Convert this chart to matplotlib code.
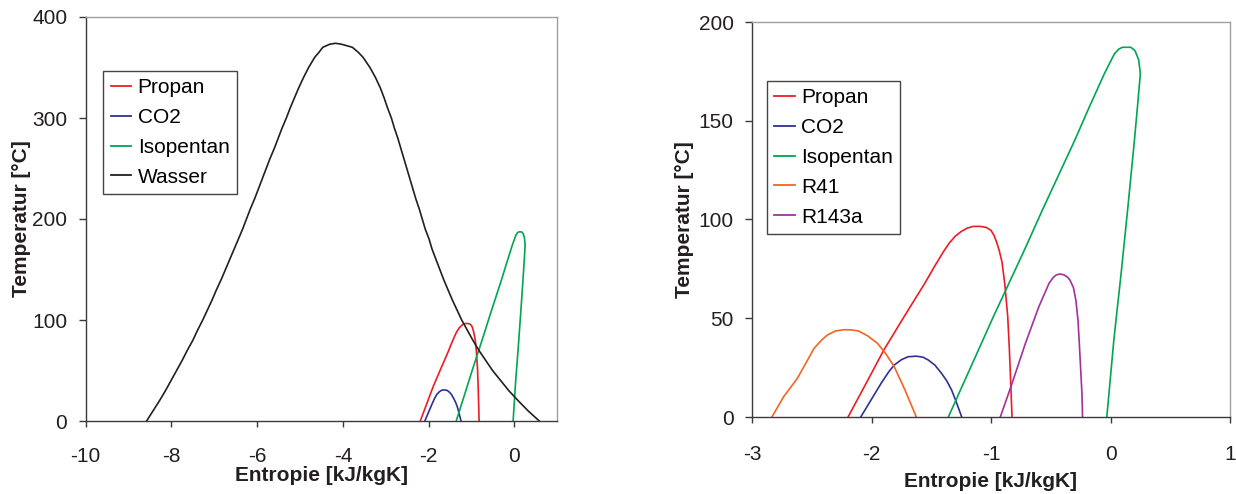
import matplotlib
matplotlib.use("Agg")
import matplotlib.pyplot as plt

plt.rcParams['font.family'] = ['Liberation Sans', 'DejaVu Sans']
plt.rcParams['axes.unicode_minus'] = False

# saturation curves: entropy [kJ/kgK], temperature [degC]
propan_s = [-2.196, -2.05, -1.897, -1.72, -1.555, -1.47, -1.40, -1.35, -1.30, -1.25,
            -1.20, -1.15, -1.09, -1.04, -1.00, -0.975, -0.95, -0.93, -0.908, -0.885,
            -0.86, -0.846, -0.835, -0.824]
propan_t = [0, 16.5, 33.9, 51.5, 67.6, 76.5, 83.5, 88.0, 91.5, 93.9,
            95.6, 96.5, 96.5, 96.0, 94.5, 92.0, 88.0, 84.0, 78.5, 67.6,
            50.8, 33.9, 17.0, 0]

co2_s = [-2.09, -2.00, -1.92, -1.86, -1.81, -1.75, -1.695, -1.625, -1.57, -1.526,
         -1.47, -1.414, -1.37, -1.33, -1.29, -1.245]
co2_t = [0, 9.0, 17.0, 22.5, 26.3, 29.0, 30.5, 30.8, 30.3, 28.9,
         26.3, 22.1, 18.3, 13.7, 7.5, 0]

isopentan_s = [-1.357, -0.98, -0.72, -0.57, -0.30, -0.177, -0.05, 0.00, 0.034, 0.07,
               0.10, 0.17, 0.205, 0.235, 0.25, 0.23, 0.20, 0.146, 0.089, 0.028,
               -0.023, -0.031]
isopentan_t = [0, 50.8, 84.6, 104.8, 140.0, 157.0, 174.0, 180.0, 184.0, 186.3,
               187.2, 187.2, 185.5, 181.0, 174.0, 160.0, 140.0, 106.5, 72.8, 39.0,
               5.2, 0]

r41_s = [-2.833, -2.735, -2.62, -2.48, -2.42, -2.37, -2.30, -2.23, -2.17, -2.11,
         -2.03, -1.95, -1.88, -1.81, -1.72, -1.625]
r41_t = [0, 10.3, 19.6, 34.8, 38.8, 41.5, 43.6, 44.2, 44.1, 43.6,
         41.0, 37.3, 32.0, 25.5, 13.7, 0]

r143a_s = [-0.922, -0.824, -0.712, -0.60, -0.514, -0.48, -0.455, -0.425, -0.39, -0.36,
           -0.34, -0.31, -0.29, -0.272, -0.261, -0.239, -0.234]
r143a_t = [0, 17.0, 37.3, 55.8, 67.7, 70.6, 71.9, 72.4, 72.0, 70.8,
           69.4, 65.5, 59.2, 49.0, 37.3, 12.0, 0]

wasser_s = [-8.58, -8.43, -8.28, -8.14, -8.01, -7.88, -7.75, -7.63, -7.50, -7.39,
            -7.27, -7.16, -7.05, -6.95, -6.84, -6.74, -6.64, -6.54, -6.44, -6.34,
            -6.25, -6.16, -6.06, -5.97, -5.88, -5.79, -5.70, -5.60, -5.51, -5.42,
            -5.32, -5.23, -5.13, -5.03, -4.92, -4.80, -4.66, -4.56, -4.47, -4.31,
            -4.17, -4.03, -3.78, -3.64, -3.53, -3.37, -3.24, -3.13, -3.04, -2.96,
            -2.87, -2.80, -2.72, -2.65, -2.58, -2.51, -2.44, -2.37, -2.30, -2.22,
            -2.15, -2.08, -1.99, -1.92, -1.83, -1.74, -1.65, -1.55, -1.45, -1.34,
            -1.23, -1.10, -0.97, -0.83, -0.67, -0.51, -0.32, -0.13, 0.09, 0.32, 0.58]
wasser_t = [0, 10, 20, 30, 40, 50, 60, 70, 80, 90,
            100, 110, 120, 130, 140, 150, 160, 170, 180, 190,
            200, 210, 220, 230, 240, 250, 260, 270, 280, 290,
            300, 310, 320, 330, 340, 350, 360, 365, 370, 373,
            374, 373, 370, 365, 360, 350, 340, 330, 320, 310,
            300, 290, 280, 270, 260, 250, 240, 230, 220, 210,
            200, 190, 180, 170, 160, 150, 140, 130, 120, 110,
            100, 90, 80, 70, 60, 50, 40, 30, 20, 10, 0]

c_red = '#ED1C24'
c_blue = '#2E3192'
c_green = '#00A651'
c_orange = '#F26522'
c_purple = '#A3309F'
c_black = '#231F20'

W, H = 1236, 494
fig = plt.figure(figsize=(W / 100, H / 100), dpi=100)
ax1 = fig.add_axes([85.7 / W, 1 - 421 / H, 471.6 / W, 404 / H])
ax2 = fig.add_axes([752 / W, 1 - 417 / H, 478 / W, 395 / H])


def style(ax, xpad, xlab_y, ylab_x):
    for side in ['left', 'bottom']:
        ax.spines[side].set_color('#3a3a3a')
        ax.spines[side].set_linewidth(1.0)
    for side in ['top', 'right']:
        ax.spines[side].set_color('#a0a0a0')
        ax.spines[side].set_linewidth(1.0)
    ax.tick_params(axis='x', direction='out', length=4, width=1, pad=xpad,
                   labelsize=15, colors='#3a3a3a', labelcolor=c_black)
    ax.tick_params(axis='y', direction='out', length=4.8, width=1, pad=8.5,
                   labelsize=15, colors='#3a3a3a', labelcolor=c_black)
    ax.set_xlabel('Entropie [kJ/kgK]', fontsize=15, fontweight='bold', color=c_black)
    ax.set_ylabel('Temperatur [°C]', fontsize=15, fontweight='bold', color=c_black)
    ax.xaxis.set_label_coords(0.5, xlab_y)
    ax.yaxis.set_label_coords(ylab_x, 0.5)


def add_legend(ax, x0, y0):
    leg = ax.legend(loc='upper left', bbox_to_anchor=(x0, y0), fontsize=15,
                    frameon=True, fancybox=False, handlelength=1.0, handletextpad=0.3,
                    labelspacing=0.52, borderpad=0.35, borderaxespad=0)
    leg.get_frame().set_edgecolor('#444444')
    leg.get_frame().set_linewidth(1.0)
    leg.get_frame().set_alpha(1)
    for line in leg.get_lines():
        line.set_linewidth(1.3)


lw = 1.2

# left chart
ax1.plot(propan_s, propan_t, color=c_red, lw=lw, label='Propan')
ax1.plot(co2_s, co2_t, color=c_blue, lw=lw, label='CO2')
ax1.plot(isopentan_s, isopentan_t, color=c_green, lw=lw, label='Isopentan')
ax1.plot(wasser_s, wasser_t, color=c_black, lw=lw, label='Wasser')
ax1.set_xlim(-10, 1)
ax1.set_ylim(0, 400)
ax1.set_xticks([-10, -8, -6, -4, -2, 0])
ax1.set_yticks([0, 100, 200, 300, 400])
style(ax1, 14.5, -0.111, -0.116)
add_legend(ax1, 17.6 / 471.6, 1 - 54 / 404)

# right chart
ax2.plot(propan_s, propan_t, color=c_red, lw=lw, label='Propan')
ax2.plot(co2_s, co2_t, color=c_blue, lw=lw, label='CO2')
ax2.plot(isopentan_s, isopentan_t, color=c_green, lw=lw, label='Isopentan')
ax2.plot(r41_s, r41_t, color=c_orange, lw=lw, label='R41')
ax2.plot(r143a_s, r143a_t, color=c_purple, lw=lw, label='R143a')
ax2.set_xlim(-3, 1)
ax2.set_ylim(0, 200)
ax2.set_xticks([-3, -2, -1, 0, 1])
ax2.set_yticks([0, 50, 100, 150, 200])
style(ax2, 16, -0.139, -0.121)
add_legend(ax2, 14.8 / 478, 1 - 59 / 395)

fig.savefig('out.png', dpi=100)
